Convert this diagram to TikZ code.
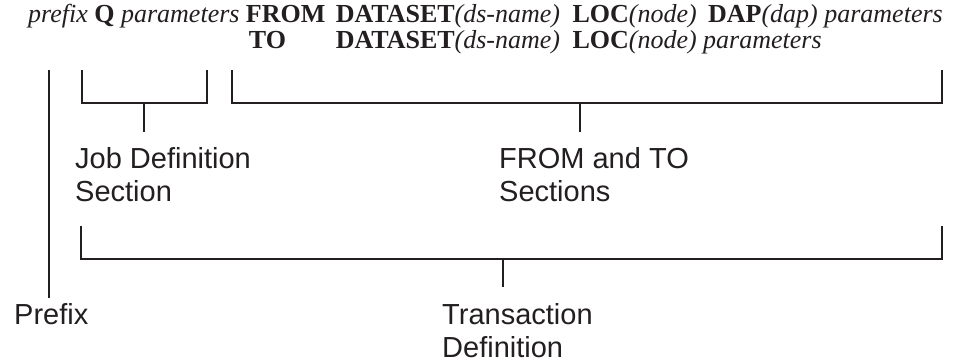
\documentclass[tikz,border=0pt]{standalone}
\usepackage{fontspec}
\setmainfont{Liberation Serif}
\newfontfamily\labfont{Liberation Sans}
\usetikzlibrary{calc}
\definecolor{ink}{HTML}{231F20}
\tikzset{
  cmd/.style={inner sep=0pt, anchor=base west, font=\fontsize{26}{30}\selectfont, text=ink},
  lab/.style={inner sep=0pt, anchor=north west, align=left, font=\labfont\fontsize{29}{33}\selectfont, text=ink},
  brk/.style={draw=ink, line width=2.2pt},
}
\begin{document}
\begin{tikzpicture}[x=1pt,y=-1pt]
\useasboundingbox[fill=white] (0,0) rectangle (973,362);
% command lines
\node[cmd] (pre) at (28,22) {\textit{prefix} \textbf{Q} \textit{parameters}};
\node[cmd] (from) at ($(pre.base east)+(6,0)$) {\textbf{FROM}};
\node[cmd] (ds1) at ($(from.base east)+(10,0)$) {\textbf{DATASET}\textit{(ds-name)}};
\node[cmd] (loc1) at ($(ds1.base east)+(12,0)$) {\textbf{LOC}\textit{(node)}};
\node[cmd] (dap) at ($(loc1.base east)+(11,0)$) {\textbf{DAP}\textit{(dap)} \textit{parameters}};
\node[cmd] (to) at ($(from.base west)+(3,26)$) {\textbf{TO}};
\node[cmd] (ds2) at ($(ds1.base west)+(0,26)$) {\textbf{DATASET}\textit{(ds-name)}};
\node[cmd] (loc2) at ($(loc1.base west)+(0,26)$) {\textbf{LOC}\textit{(node)} \textit{parameters}};
% labels
\node[lab] (jobl) at (75,147) {Job Definition\\Section};
\node[lab] (ftl) at (499,147) {FROM and TO\\Sections};
\node[lab] (trl) at (442,303) {Transaction\\Definition};
\node[lab] (prl) at (14,303) {Prefix};
% bracket coordinates
\coordinate (pT) at (49,70);
\coordinate (pB) at (49,298);
\coordinate (jL) at (82,70);
\coordinate (jR) at (207,70);
\coordinate (jM) at (144,103);
\coordinate (jS) at (144,132);
\coordinate (fL) at (232,70);
\coordinate (fR) at (942,70);
\coordinate (fM) at (580,103);
\coordinate (fS) at (580,132);
\coordinate (tL) at (81,226);
\coordinate (tR) at (942,226);
\coordinate (tM) at (503,259);
\coordinate (tS) at (503,287);
% brackets
\draw[brk] (pT) -- (pB);
\draw[brk] (jL) -- (jL |- jM) -- (jR |- jM) -- (jR);
\draw[brk] (jM) -- (jS);
\draw[brk] (fL) -- (fL |- fM) -- (fR |- fM) -- (fR);
\draw[brk] (fM) -- (fS);
\draw[brk] (tL) -- (tL |- tM) -- (tR |- tM) -- (tR);
\draw[brk] (tM) -- (tS);
\end{tikzpicture}
\end{document}
